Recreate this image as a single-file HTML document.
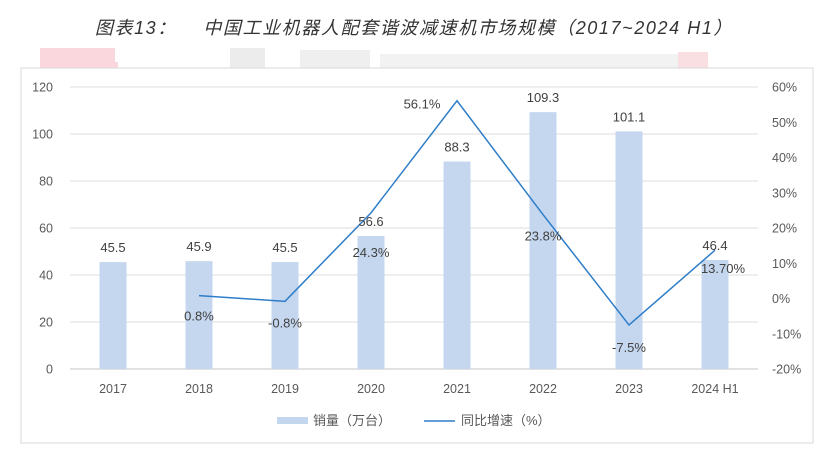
<!DOCTYPE html>
<html><head><meta charset="utf-8"><style>
body{margin:0;background:#fff;width:830px;height:457px;overflow:hidden;font-family:"Liberation Sans","Noto Sans CJK SC",sans-serif;}
svg text{font-family:"Liberation Sans","Noto Sans CJK SC",sans-serif;}
</style></head><body>
<svg id="chart" width="830" height="457">
<g opacity="0.55">
<rect x="40" y="48" width="75" height="20" fill="#f7b7c2"/>
<rect x="88" y="62" width="30" height="6" fill="#f7b7c2"/>
<rect x="230" y="48" width="35" height="20" fill="#ddd"/>
<rect x="300" y="50" width="70" height="18" fill="#e2e2e2"/>
<rect x="380" y="54" width="300" height="14" fill="#e8e8e8"/>
<rect x="678" y="52" width="30" height="16" fill="#f5c4cc"/>
</g>
<text x="414" y="34" text-anchor="middle" font-size="18" letter-spacing="1.6" font-style="italic" fill="#333">图表13：&#160;&#160;&#160;&#160;中国工业机器人配套谐波减速机市场规模（2017~2024 H1）</text>
<rect x="21" y="68" width="792" height="375" fill="#fff" stroke="#d9d9d9"/>
<g id="grid"></g><g id="bars"></g><g id="line"></g><g id="labels"></g>
<g>
<rect x="277" y="417" width="31" height="7" fill="#c5d7ef"/>
<text x="313" y="425" font-size="13" fill="#595959">销量（万台）</text>
<line x1="424" y1="421" x2="455" y2="421" stroke="#2e7dc8" stroke-width="1.5"/>
<text x="461" y="425" font-size="13" fill="#595959">同比增速（%）</text>
</g>
</svg>
<script>
const categories=["2017","2018","2019","2020","2021","2022","2023","2024 H1"];
const sales=[45.5,45.9,45.5,56.6,88.3,109.3,101.1,46.4];
const growth=[null,0.8,-0.8,24.3,56.1,23.8,-7.5,13.7];
const growthLabels=["","0.8%","-0.8%","24.3%","56.1%","23.8%","-7.5%","13.70%"];
const leftTicks=[0,20,40,60,80,100,120];
const rightTicks=[-20,-10,0,10,20,30,40,50,60];
const labelOffsets=[[0,0],[0,25],[0,26],[0,44],[-35,8],[0,26],[0,27],[8,23]];
const NS="http://www.w3.org/2000/svg";
const x0=70,x1=758,yTop=87,yBot=369;
const band=(x1-x0)/categories.length;
const xC=i=>x0+band*(i+0.5);
const yL=v=>yBot-(v-0)/120*(yBot-yTop);
const yR=v=>yBot-(v+20)/80*(yBot-yTop);
function mk(tag,attrs,parent,txt){const e=document.createElementNS(NS,tag);for(const k in attrs)e.setAttribute(k,attrs[k]);if(txt!==undefined)e.textContent=txt;document.getElementById(parent).appendChild(e);return e;}
leftTicks.forEach(t=>{
 const l=mk('line',{x1:x0,x2:x1,y1:yL(t),y2:yL(t),stroke:t===0?'#d0d0d0':'#e3e3e3','stroke-width':1.3},'grid');
 
 
 const tx=mk('text',{x:53,y:yL(t)+4.5,'text-anchor':'end','font-size':12.5,fill:'#595959'},'grid',String(t));
 
 
});
rightTicks.forEach(t=>{
 const tx=mk('text',{x:772,y:yR(t)+4.5,'font-size':12.5,fill:'#595959'},'grid',t+'%');
 
 
});
categories.forEach((c,i)=>{
 const tx=mk('text',{x:xC(i),y:393,'text-anchor':'middle','font-size':12.5,fill:'#595959'},'grid',c);
 
 
});
const bw=27;
sales.forEach((v,i)=>{
 const r=mk('rect',{x:xC(i)-bw/2,y:yL(v),width:bw,height:yBot-yL(v),fill:'#c5d7ef'},'bars');
 
 
 const t=mk('text',{x:xC(i),y:yL(v)-10,'text-anchor':'middle','font-size':13,fill:'#404040'},'labels',String(v));
 
 
});
const pts=[];
growth.forEach((g,i)=>{if(g!==null)pts.push(xC(i)+','+yR(g));});
const pl=mk('polyline',{points:pts.join(' '),fill:'none',stroke:'#2e7dc8','stroke-width':1.5},'line');


growth.forEach((g,i)=>{
 if(g===null)return;
 const o=labelOffsets[i];
 const t=mk('text',{x:xC(i)+o[0],y:yR(g)+o[1],'text-anchor':'middle','font-size':13,fill:'#404040'},'labels',growthLabels[i]);
 
 
});
</script>
</body></html>
